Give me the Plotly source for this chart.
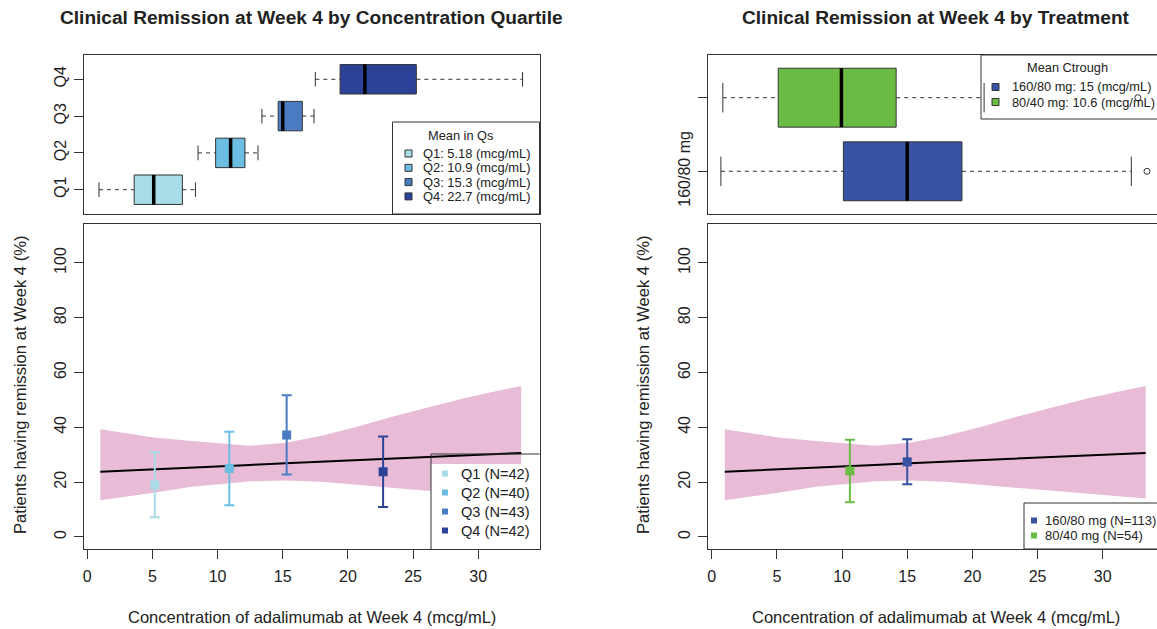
import plotly.graph_objects as go

# ---- data -------------------------------------------------------------
# logistic fit of remission vs concentration with 95% band
fit_x = [1.0, 3.0, 5.1, 8.0, 10.8, 12.5, 15.2, 17.9, 20.7, 23.4, 26.2, 28.9, 31.0, 33.3]
fit_upper = [39.3, 37.8, 36.3, 35.0, 33.8, 33.3, 34.4, 36.8, 40.2, 43.9, 47.3, 50.6, 52.8, 55.1]
fit_lower = [13.4, 14.8, 16.1, 18.3, 19.5, 20.3, 20.6, 20.1, 19.1, 17.9, 16.8, 15.9, 14.9, 14.0]
fit_mean = [23.8, 24.2, 24.7, 25.3, 25.9, 26.3, 26.9, 27.5, 28.1, 28.7, 29.3, 29.9, 30.2, 30.6]

# observed remission by concentration quartile
quartiles = ["Q1", "Q2", "Q3", "Q4"]
quartile_n = [42, 40, 43, 42]
quartile_mean_conc = [5.18, 10.9, 15.3, 22.7]
quartile_pct = [19.0, 25.0, 37.2, 23.8]
quartile_lo = [7.2, 11.6, 22.8, 10.9]
quartile_hi = [30.9, 38.4, 51.7, 36.7]
quartile_colors = ["#A9DCE6", "#6CBDE2", "#4A7CC3", "#2C4299"]

# concentration distribution within each quartile (boxplot statistics)
q_whisker_lo = [0.9, 8.5, 13.4, 17.5]
q_box_lo = [3.6, 9.85, 14.65, 19.4]
q_median = [5.1, 11.0, 15.0, 21.3]
q_box_hi = [7.3, 12.1, 16.5, 25.25]
q_whisker_hi = [8.3, 13.1, 17.4, 33.4]

# observed remission by treatment arm
arms = ["160/80 mg", "80/40 mg"]
arm_n = [113, 54]
arm_mean_conc = [15.0, 10.6]
arm_pct = [27.4, 24.1]
arm_lo = [19.2, 12.7]
arm_hi = [35.7, 35.5]
arm_colors = ["#3853A4", "#6ABC45"]

# concentration distribution within each arm
a_whisker_lo = [0.7, 0.85]
a_box_lo = [10.1, 5.1]
a_median = [15.0, 9.95]
a_box_hi = [19.2, 14.15]
a_whisker_hi = [32.2, 20.9]
a_outliers = [[33.4], [32.7]]

x_ticks = [0, 5, 10, 15, 20, 25, 30]
y_ticks = [0, 20, 40, 60, 80, 100]

# ---- layout helpers ---------------------------------------------------
W, H = 1157, 629
FONT = "Liberation Sans, Arial, sans-serif"
INK = "#222222"
EDGE = "#333333"


def px(x):
    return x / W


def py(y):
    return 1 - y / H


fig = go.Figure()


def add_boxes(xa, ya, pos, wlo, blo, med, bhi, whi, colors, outliers=None):
    h, s = 0.4, 0.2
    for i, p in enumerate(pos):
        fig.add_trace(go.Scatter(
            x=[blo[i], bhi[i], bhi[i], blo[i], blo[i]],
            y=[p - h, p - h, p + h, p + h, p - h],
            fill="toself", fillcolor=colors[i], mode="lines",
            line=dict(color=EDGE, width=1), xaxis=xa, yaxis=ya,
            hoverinfo="skip", showlegend=False))
        fig.add_trace(go.Scatter(
            x=[wlo[i], blo[i], None, bhi[i], whi[i]], y=[p, p, None, p, p],
            mode="lines", line=dict(color=EDGE, width=1, dash="4px,4px"),
            xaxis=xa, yaxis=ya, hoverinfo="skip", showlegend=False))
        fig.add_trace(go.Scatter(
            x=[wlo[i], wlo[i], None, whi[i], whi[i]],
            y=[p - s, p + s, None, p - s, p + s],
            mode="lines", line=dict(color=EDGE, width=1),
            xaxis=xa, yaxis=ya, hoverinfo="skip", showlegend=False))
        fig.add_trace(go.Scatter(
            x=[med[i], med[i]], y=[p - h, p + h], mode="lines",
            line=dict(color="black", width=3.5),
            xaxis=xa, yaxis=ya, hoverinfo="skip", showlegend=False))
        if outliers and outliers[i]:
            fig.add_trace(go.Scatter(
                x=outliers[i], y=[p] * len(outliers[i]), mode="markers",
                marker=dict(symbol="circle-open", size=6, color=EDGE,
                            line=dict(width=1)),
                xaxis=xa, yaxis=ya, hoverinfo="skip", showlegend=False))


def add_fit(xa, ya):
    fig.add_trace(go.Scatter(
        x=fit_x + fit_x[::-1], y=fit_upper + fit_lower[::-1],
        fill="toself", fillcolor="#E8BCD7", mode="lines",
        line=dict(width=0, color="#E8BCD7"),
        xaxis=xa, yaxis=ya, hoverinfo="skip", showlegend=False))
    fig.add_trace(go.Scatter(
        x=fit_x, y=fit_mean, mode="lines", line=dict(color="black", width=2),
        xaxis=xa, yaxis=ya, hoverinfo="skip", showlegend=False))


def add_points(xa, ya, xs, ys, lo, hi, colors):
    for i in range(len(xs)):
        fig.add_trace(go.Scatter(
            x=[xs[i]], y=[ys[i]], mode="markers",
            marker=dict(symbol="square", size=9, color=colors[i]),
            error_y=dict(type="data", symmetric=False,
                         array=[hi[i] - ys[i]], arrayminus=[ys[i] - lo[i]],
                         color=colors[i], thickness=2, width=5),
            xaxis=xa, yaxis=ya, showlegend=False))


# ---- left column: by concentration quartile ---------------------------
add_boxes("x2", "y2", [1, 2, 3, 4], q_whisker_lo, q_box_lo, q_median,
          q_box_hi, q_whisker_hi, quartile_colors)
add_fit("x", "y")
add_points("x", "y", quartile_mean_conc, quartile_pct, quartile_lo,
           quartile_hi, quartile_colors)

# ---- right column: by treatment --------------------------------------
add_boxes("x4", "y4", [1, 2], a_whisker_lo, a_box_lo, a_median,
          a_box_hi, a_whisker_hi, arm_colors, a_outliers)
add_fit("x3", "y3")
order = [1, 0]
add_points("x3", "y3", [arm_mean_conc[i] for i in order],
           [arm_pct[i] for i in order], [arm_lo[i] for i in order],
           [arm_hi[i] for i in order], [arm_colors[i] for i in order])

# ---- axes -------------------------------------------------------------
L_DOM = [px(84), px(539.5)]
R_DOM = [px(708), 1.0]
TOP_DOM = [py(214), py(55)]
BOT_DOM = [py(549), py(223.5)]
L_RANGE = [-0.25, 34.7]
R_RANGE = [-0.29, 34.17]

common = dict(showgrid=False, zeroline=False, linecolor=EDGE, linewidth=1,
              tickcolor=EDGE, tickfont=dict(family=FONT, size=16, color=INK))

xt = dict(tickmode="array", tickvals=x_ticks, ticks="outside", ticklen=9,
          ticklabelstandoff=4)
yt = dict(tickmode="array", tickvals=y_ticks, ticks="outside", ticklen=9,
          tickangle=-90, ticklabelstandoff=2)

fig.update_layout(
    xaxis=dict(domain=L_DOM, range=L_RANGE, anchor="y", showline=True,
               mirror=True, **xt, **common),
    yaxis=dict(domain=BOT_DOM, range=[-4.4, 114.4], anchor="x",
               showline=True, mirror=True, **yt, **common),
    xaxis2=dict(domain=L_DOM, range=L_RANGE, anchor="y2", showline=True,
                mirror=True, showticklabels=False, ticks="", **common),
    yaxis2=dict(domain=TOP_DOM, range=[0.34, 4.66], anchor="x2",
                showline=True, mirror=True, tickmode="array",
                tickvals=[1, 2, 3, 4], ticktext=quartiles, ticks="outside",
                ticklen=9, tickangle=-90, ticklabelstandoff=2, **common),
    xaxis3=dict(domain=R_DOM, range=R_RANGE, anchor="y3", showline=True,
                mirror=True, **xt, **common),
    yaxis3=dict(domain=BOT_DOM, range=[-4.4, 114.4], anchor="x3",
                showline=True, mirror=False, **yt, **common),
    xaxis4=dict(domain=R_DOM, range=R_RANGE, anchor="y4", showline=True,
                mirror=True, showticklabels=False, ticks="", **common),
    yaxis4=dict(domain=TOP_DOM, range=[0.42, 2.58], anchor="x4",
                showline=True, mirror=False, tickmode="array",
                tickvals=[1, 2], ticktext=[arms[0], ""], ticks="outside",
                ticklen=9, tickangle=-90, ticklabelstandoff=2, **common),
)

# ---- titles -----------------------------------------------------------
ann = []
shapes = []


def text(x, y, s, size, anchor="center", bold=False, angle=0):
    ann.append(dict(xref="paper", yref="paper", x=px(x), y=py(y),
                    text=f"<b>{s}</b>" if bold else s, showarrow=False,
                    xanchor=anchor, yanchor="middle", textangle=angle,
                    font=dict(family=FONT, size=size, color=INK)))


text(311.7, 18, "Clinical Remission at Week 4 by Concentration Quartile", 19.1, bold=True)
text(936, 18, "Clinical Remission at Week 4 by Treatment", 19.1, bold=True)
text(311.7, 617, "Concentration of adalimumab at Week 4 (mcg/mL)", 16.5)
text(936, 617, "Concentration of adalimumab at Week 4 (mcg/mL)", 16.5)
text(20, 385, "Patients having remission at Week 4 (%)", 16.6, angle=-90)
text(643, 385, "Patients having remission at Week 4 (%)", 16.6, angle=-90)


def rect(x0, y0, x1, y1, fill="white", line=EDGE, layer="above"):
    shapes.append(dict(type="rect", xref="paper", yref="paper",
                       x0=px(x0), x1=px(x1), y0=py(y1), y1=py(y0),
                       fillcolor=fill, layer=layer,
                       line=dict(color=line, width=1 if line else 0)))


# legend: mean concentration per quartile
rect(392.5, 122, 539.5, 214)
text(460, 135.5, "Mean in Qs", 12.8)
for i, q in enumerate(quartiles):
    yy = 153.5 + i * 14.3
    rect(405, yy - 3.5, 412, yy + 3.5, fill=quartile_colors[i], line=EDGE)
    text(421, yy, f"{q}: {quartile_mean_conc[i]} (mcg/mL)", 12.9, anchor="left")

# legend: quartile sample sizes
rect(431, 464, 539.5, 549, line=None)
shapes.append(dict(type="line", xref="paper", yref="paper", x0=px(431), x1=px(539.5),
                   y0=py(454), y1=py(454), line=dict(color=EDGE, width=1), layer="above"))
shapes.append(dict(type="line", xref="paper", yref="paper", x0=px(431), x1=px(431),
                   y0=py(454), y1=py(549), line=dict(color=EDGE, width=1), layer="above"))
for i, q in enumerate(quartiles):
    yy = 473.5 + i * 19
    rect(442, yy - 3, 448, yy + 3, fill=quartile_colors[i], line=None)
    text(459, yy, f"{q} (N={quartile_n[i]})", 14.6, anchor="left")

# legend: mean trough concentration per arm (drawn beneath the boxes)
rect(981, 55, 1160, 119, layer="below")
text(1067, 67, "Mean Ctrough", 12.8)
for i, a in enumerate(arms):
    yy = 87 + i * 15
    rect(992, yy - 3.5, 999, yy + 3.5, fill=arm_colors[i], line=EDGE)
    text(1010, yy, f"{a}: {arm_mean_conc[i]:g} (mcg/mL)", 12.8, anchor="left")

# legend: arm sample sizes
rect(1024, 503, 1160, 549)
for i, a in enumerate(arms):
    yy = 520.5 + i * 15
    rect(1031, yy - 3, 1037, yy + 3, fill=arm_colors[i], line=None)
    text(1043, yy, f"{a} (N={arm_n[i]})", 13, anchor="left")

fig.update_layout(
    width=W, height=H, margin=dict(l=0, r=0, t=0, b=0),
    paper_bgcolor="white", plot_bgcolor="white",
    showlegend=False, annotations=ann, shapes=shapes,
)

fig.write_html("out.html")
